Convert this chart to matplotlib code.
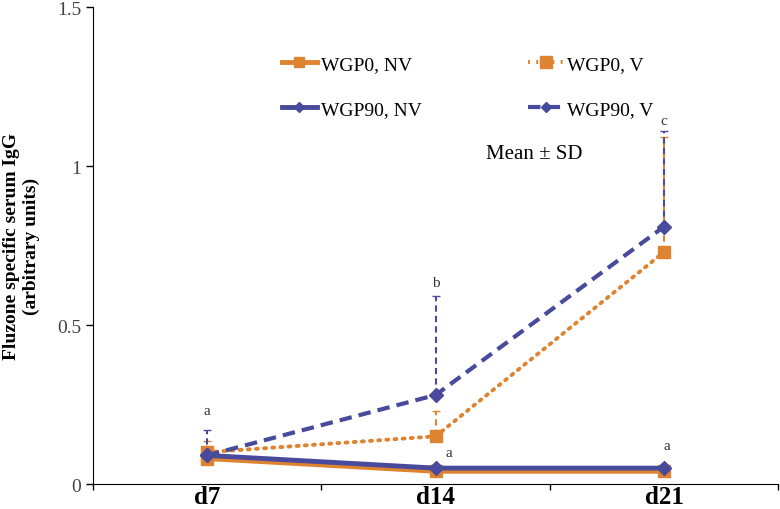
import matplotlib
matplotlib.use("Agg")
import matplotlib.pyplot as plt
from matplotlib.lines import Line2D

days = ["d7", "d14", "d21"]

wgp0_nv = [0.08, 0.04, 0.04]
wgp0_nv_sd = [0.01, 0.02, 0.02]
wgp0_v = [0.10, 0.15, 0.73]
wgp0_v_sd = [0.035, 0.08, 0.36]
wgp90_nv = [0.09, 0.05, 0.05]
wgp90_nv_sd = [0.01, 0.01, 0.01]
wgp90_v = [0.09, 0.28, 0.81]
wgp90_v_sd = [0.08, 0.31, 0.30]

letters = ["a", "b", "c", "a", "a"]
letter_x = [0, 1, 2, 1.06, 2.01]
letter_y = [0.23, 0.635, 1.145, 0.098, 0.12]

orange = "#DE8330"
blue = "#484A9C"
dot_style = (0, (0.5, 1.6))
dash_style = (0, (3, 1.7))

plt.rcParams["font.family"] = ["Liberation Serif", "DejaVu Serif"]

fig = plt.figure(figsize=(7.8, 5.1), dpi=100)
ax = fig.add_axes([0.119, 0.049, 0.879, 0.935])

x = list(range(len(days)))

ax.errorbar(x, wgp0_nv, yerr=[[0] * 3, wgp0_nv_sd], color=orange, lw=3.5,
            marker="s", ms=9, capsize=3, elinewidth=1.5, zorder=3)
eb = ax.errorbar(x, wgp0_v, yerr=[[0] * 3, wgp0_v_sd], color=orange, lw=2.8,
                 ls=dot_style, dash_capstyle="round", marker="s", ms=9,
                 capsize=3, elinewidth=1.5, zorder=3)
eb[2][0].set_linestyle((0, (3, 2)))
ax.errorbar(x, wgp90_nv, yerr=[[0] * 3, wgp90_nv_sd], color=blue, lw=3.5,
            marker="D", ms=7, capsize=3, elinewidth=1.5, zorder=4)
eb = ax.errorbar(x, wgp90_v, yerr=[[0] * 3, wgp90_v_sd], color=blue, lw=3,
                 ls=dash_style, marker="D", ms=7, capsize=3, elinewidth=1.5,
                 zorder=4)
eb[2][0].set_linestyle((0, (3, 2)))

for t, lx, ly in zip(letters, letter_x, letter_y):
    ax.text(lx, ly, t, ha="center", va="center", fontsize=11, color="#333333")

ax.text(1.43, 1.04, "Mean ± SD", ha="center", va="center", fontsize=15)

ax.set_xlim(-0.5, 2.5)
ax.set_ylim(0, 1.5)
ax.set_xticks(x)
ax.set_xticklabels(days, fontsize=18, fontweight="bold")
ax.set_xticks([-0.5, 0.5, 1.5, 2.5], minor=True)
ax.tick_params(axis="x", which="major", length=0, pad=1)
ax.tick_params(axis="x", which="minor", length=4, width=1)
ax.set_yticks([0, 0.5, 1, 1.5])
ax.set_yticklabels(["0", "0.5", "1", "1.5"], fontsize=14, color="#444444")
ax.tick_params(axis="y", length=5, width=1)
ax.spines["top"].set_visible(False)
ax.spines["right"].set_visible(False)
ax.set_ylabel("Fluzone specific serum IgG\n(arbitrary units)", fontsize=14,
              fontweight="bold", labelpad=12)

# legend order gives rows: WGP0 NV / WGP0 V, then WGP90 NV / WGP90 V
handles = [
    Line2D([], [], color=orange, lw=3.5, marker="s", ms=7),
    Line2D([], [], color=blue, lw=3.5, marker="D", ms=5),
    Line2D([], [], color=orange, lw=2.8, ls=dot_style, marker="s", ms=9),
    Line2D([], [], color=blue, lw=3, ls=dash_style, marker="D", ms=5),
]
labels = ["WGP0, NV", "WGP90, NV", "WGP0, V", "WGP90, V"]
ax.legend(handles, labels, loc="upper left", bbox_to_anchor=(0.25, 0.935),
          ncol=2, frameon=False, fontsize=14, handlelength=1.8,
          columnspacing=5.5, labelspacing=1.4, handletextpad=0.2)

fig.savefig("out.png", dpi=100)
